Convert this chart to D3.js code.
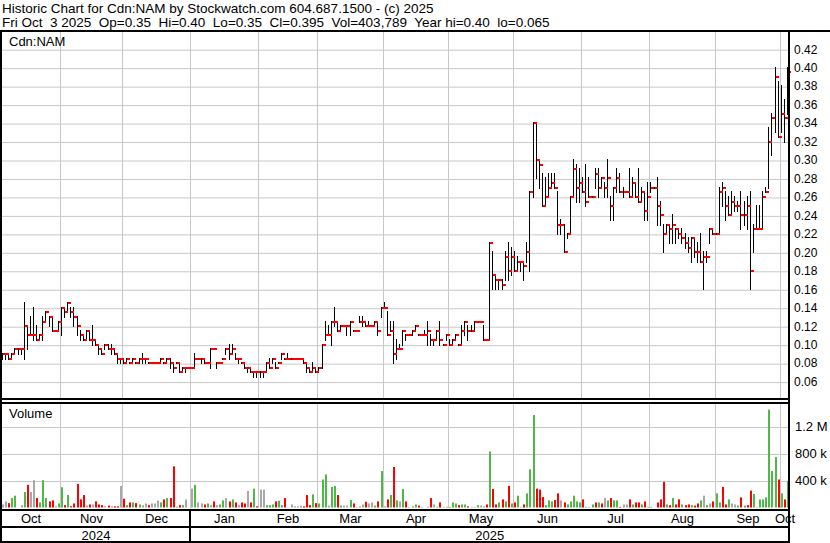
<!DOCTYPE html>
<html>
<head>
<meta charset="utf-8">
<script src="https://cdn.jsdelivr.net/npm/d3@7"></script>
<style>
  body { margin: 0; background: #fff; }
  svg text { font-family: "Liberation Sans", Arial, sans-serif; fill: #000; }
</style>
</head>
<body>
<div id="chart"></div>
<script>
// daily bars, Oct 3 2024 .. Oct 3 2025 (price in $)
const highs = [
  .09,.09,.09,.09,.095,.095,.095,.145,.12,.13,
  .14,.12,.11,.13,.135,.13,.13,.115,.125,.14,
  .14,.145,.14,.14,.13,.115,.11,.115,.115,.12,
  .105,.10,.095,.10,.10,.10,.095,.09,.085,.085,
  .085,.08,.085,.08,.085,.09,.085,.08,.08,.08,
  .08,.085,.08,.085,.085,.08,.08,.08,.075,.075,
  .075,.075,.09,.085,.085,.085,.08,.095,.095,.08,
  .08,.085,.095,.10,.10,.09,.085,.08,.08,.075,
  .075,.07,.07,.07,.07,.08,.085,.085,.08,.08,
  .09,.085,.09,.085,.085,.085,.085,.085,.08,.075,
  .08,.075,.075,.10,.125,.12,.125,.14,.125,.12,
  .12,.12,.125,.115,.115,.13,.13,.125,.125,.12,
  .125,.125,.14,.145,.135,.125,.125,.105,.10,.115,
  .11,.11,.115,.12,.11,.11,.115,.125,.11,.105,
  .115,.125,.10,.11,.105,.105,.11,.10,.12,.125,
  .12,.12,.125,.125,.125,.12,.105,.21,.20,.175,
  .17,.17,.20,.21,.205,.20,.195,.19,.19,.21,
  .265,.34,.34,.30,.285,.28,.285,.285,.285,.265,
  .235,.23,.22,.26,.30,.295,.29,.28,.295,.28,
  .26,.29,.29,.28,.275,.30,.26,.27,.29,.285,
  .27,.265,.29,.28,.275,.29,.27,.265,.275,.275,
  .27,.28,.255,.23,.23,.23,.24,.225,.225,.225,
  .22,.215,.215,.215,.21,.22,.20,.20,.225,.225,
  .22,.27,.275,.265,.26,.265,.26,.255,.265,.255,
  .26,.265,.23,.25,.25,.265,.27,.335,.35,.40,
  .385,.38,.365,.40
];
const lows = [
  .085,.085,.085,.085,.09,.09,.09,.085,.095,.11,
  .105,.105,.105,.105,.125,.12,.115,.115,.115,.11,
  .13,.135,.13,.12,.11,.105,.105,.105,.105,.10,
  .10,.09,.09,.095,.095,.09,.09,.08,.08,.08,
  .08,.08,.08,.08,.08,.08,.08,.08,.08,.08,
  .08,.08,.08,.08,.075,.07,.08,.07,.07,.07,
  .075,.075,.075,.085,.08,.08,.08,.075,.095,.075,
  .08,.085,.09,.085,.09,.085,.08,.08,.075,.07,
  .07,.065,.065,.065,.065,.07,.075,.08,.075,.08,
  .085,.085,.085,.085,.085,.085,.085,.08,.07,.07,
  .07,.07,.07,.075,.105,.11,.10,.12,.115,.115,
  .12,.11,.11,.115,.115,.125,.12,.12,.12,.12,
  .12,.11,.13,.14,.11,.115,.08,.085,.095,.10,
  .105,.11,.11,.115,.11,.11,.11,.10,.10,.10,
  .105,.10,.10,.105,.10,.10,.105,.10,.10,.11,
  .105,.115,.115,.125,.125,.105,.105,.105,.16,.16,
  .16,.16,.17,.17,.175,.18,.18,.18,.17,.19,
  .18,.26,.28,.27,.25,.25,.26,.27,.27,.22,
  .22,.20,.215,.22,.26,.255,.255,.265,.25,.26,
  .26,.27,.26,.27,.26,.26,.235,.235,.265,.265,
  .26,.265,.26,.26,.26,.255,.255,.235,.235,.265,
  .27,.23,.23,.20,.22,.21,.21,.21,.215,.21,
  .205,.20,.19,.195,.19,.19,.16,.19,.21,.22,
  .22,.22,.25,.235,.24,.24,.245,.245,.225,.23,
  .225,.16,.20,.225,.225,.225,.265,.27,.305,.33,
  .325,.33,.32,.35
];
const closes = [
  .09,.09,.085,.09,.095,.095,.095,.12,.11,.11,
  .11,.105,.11,.125,.135,.13,.115,.115,.125,.14,
  .135,.145,.135,.13,.12,.11,.105,.115,.105,.105,
  .10,.095,.09,.10,.095,.095,.09,.085,.085,.08,
  .085,.08,.085,.08,.085,.085,.085,.08,.08,.08,
  .08,.085,.08,.085,.08,.075,.08,.07,.075,.075,
  .075,.075,.085,.085,.085,.08,.08,.095,.095,.08,
  .08,.085,.095,.09,.095,.085,.085,.08,.075,.075,
  .07,.07,.07,.07,.07,.08,.075,.085,.075,.08,
  .09,.085,.085,.085,.085,.085,.085,.08,.075,.07,
  .075,.07,.075,.10,.11,.11,.125,.125,.115,.12,
  .12,.12,.125,.115,.115,.125,.125,.12,.12,.12,
  .125,.115,.14,.14,.11,.115,.09,.095,.095,.115,
  .11,.11,.115,.12,.11,.11,.11,.115,.105,.105,
  .115,.105,.10,.11,.10,.105,.11,.10,.115,.125,
  .115,.115,.125,.125,.125,.105,.105,.21,.175,.17,
  .17,.165,.195,.18,.195,.18,.19,.19,.185,.20,
  .265,.34,.30,.295,.25,.26,.27,.275,.27,.23,
  .23,.20,.22,.26,.29,.27,.275,.265,.255,.26,
  .26,.285,.27,.28,.27,.28,.25,.27,.28,.265,
  .265,.265,.26,.275,.26,.255,.265,.245,.26,.27,
  .27,.25,.24,.22,.23,.225,.23,.225,.22,.215,
  .21,.205,.215,.20,.20,.19,.195,.195,.225,.22,
  .22,.265,.27,.25,.24,.255,.25,.25,.24,.24,
  .25,.18,.225,.225,.225,.26,.265,.32,.345,.39,
  .325,.35,.345,.395
];
// daily volume, thousands of shares
const volumes = [
  45,90,65,140,175,0,35,230,335,230,
  405,140,75,405,140,90,105,18,60,300,
  35,185,18,60,350,120,185,28,45,45,
  90,45,35,18,28,18,18,18,320,130,
  35,75,75,65,45,35,60,35,60,60,
  105,75,120,140,140,610,12,35,35,120,
  0,280,335,75,60,45,60,35,90,35,
  45,105,140,90,120,75,35,75,60,245,
  75,280,18,265,265,35,35,45,90,100,
  35,140,5,45,18,18,28,18,185,35,
  195,65,60,415,490,28,305,320,185,28,
  28,28,110,60,10,18,45,85,60,75,
  28,90,540,18,120,185,600,105,90,275,
  90,10,18,45,28,10,0,10,140,45,
  10,75,10,10,10,75,60,35,45,45,
  18,10,10,35,28,18,45,830,275,45,
  75,120,90,320,60,75,175,10,45,210,
  565,1370,280,265,155,35,105,90,110,210,
  105,75,45,90,175,90,75,120,10,10,
  45,75,75,60,140,105,140,105,105,10,
  45,45,120,45,75,75,45,90,10,10,
  0,75,120,380,45,35,140,45,120,45,
  35,45,35,28,60,105,175,35,60,90,
  210,75,305,45,120,60,45,28,150,28,
  35,250,200,10,120,120,150,1450,540,750,
  415,210,120,395
];
// g = close up, r = close down, n = unchanged
const volDir = (
  "nnrggnngrn" + "nrgggrrngg" + "rgrrrrrnrn" + "rrrnrnrrnr" + "grgrgnnrnn" +
  "ngrgrrgrgn" + "nngnnrgnrn" + "ggnrgrnrrn" + "rgrnngggrg" + "grnnnnnrrr" +
  "grgggnggrg" + "nngrnnnrnn" + "grgnrgrgng" + "rnggrnngrn" + "grnggggrgg" +
  "rnngnnrgrr" + "grgrgrgnrg" + "ggrrrgggrr" + "nrgggggrgn" + "grgrngrggr" +
  "nnrgrrgrgg" + "nrrrgrgrrg" + "rrgrrgngnr" + "ggrrgnngrg" + "rrgngggggg" +
  "rgrg"
).split("");

const monthLabels = ["Oct","Nov","Dec","Jan","Feb","Mar","Apr","May","Jun","Jul","Aug","Sep","Oct"];
const monthStarts = [0,19,39,61,83,102,123,144,165,187,209,230,251];
const yearLabels = ["2024","2025"];
const yearStarts = [0,61];

const priceTicks = [0.06,0.08,0.10,0.12,0.14,0.16,0.18,0.20,0.22,0.24,0.26,0.28,0.30,0.32,0.34,0.36,0.38,0.40,0.42];
const volTicks = [400000, 800000, 1200000];
const volTickLabels = ["400 k", "800 k", "1.2 M"];

const titleLine1 = "Historic Chart for Cdn:NAM by Stockwatch.com 604.687.1500 - (c) 2025";
const titleLine2 = "Fri Oct  3 2025  Op=0.35  Hi=0.40  Lo=0.35  Cl=0.395  Vol=403,789  Year hi=0.40  lo=0.065";

const WIDTH = 830, HEIGHT = 543;
const plotLeft = 1, plotRight = 789;
const priceTop = 32, priceBottom = 398;
const volTop = 404, volBottom = 508;

const N = closes.length;
const GRID = "#c8c8c8";
const UP = "#4fb848", DOWN = "#ff0000", FLAT = "#a8a8a8";

const svg = d3.select("#chart").append("svg")
  .attr("width", WIDTH).attr("height", HEIGHT);
svg.append("rect").attr("width", WIDTH).attr("height", HEIGHT).attr("fill", "#fff");

const xScale = d3.scaleBand().domain(d3.range(N)).range([plotLeft, plotRight]);
const step = xScale.step();
const xMid = (i) => Math.floor(xScale(i) + step / 2) + 0.5;
const xEdge = (i) => Math.round(xScale(i)) + 0.5;

const yPrice = d3.scaleLinear().domain([0.06, 0.42]).range([381.6, 49.2]);
const yVol = d3.scaleLinear().domain([0, 1200000]).range([507.5, 426.5]);

// header
svg.append("text").attr("x", 2).attr("y", 13).attr("font-size", "13.5px")
  .style("white-space", "pre").text(titleLine1);
svg.append("text").attr("x", 2).attr("y", 27).attr("font-size", "13.5px")
  .style("white-space", "pre").text(titleLine2);

// grids
const grid = svg.append("g");
grid.append("g")
  .attr("transform", `translate(${plotRight},0)`)
  .call(d3.axisLeft(yPrice).tickValues(priceTicks).tickSize(plotRight - plotLeft).tickFormat(""))
  .call(g => g.select(".domain").remove())
  .call(g => g.selectAll("line").attr("stroke", GRID).attr("transform", "translate(0,0.5)"));
grid.append("g")
  .attr("transform", `translate(${plotRight},0)`)
  .call(d3.axisLeft(yVol).tickValues(volTicks).tickSize(plotRight - plotLeft).tickFormat(""))
  .call(g => g.select(".domain").remove())
  .call(g => g.selectAll("line").attr("stroke", GRID).attr("transform", "translate(0,0.5)"));

grid.selectAll(".vp").data(monthStarts.slice(1)).join("line")
  .attr("x1", d => xEdge(d)).attr("x2", d => xEdge(d))
  .attr("y1", priceTop).attr("y2", priceBottom).attr("stroke", GRID);
grid.selectAll(".vv").data(monthStarts.slice(1)).join("line")
  .attr("class", "vv")
  .attr("x1", d => xEdge(d)).attr("x2", d => xEdge(d))
  .attr("y1", volTop).attr("y2", volBottom).attr("stroke", GRID);

// price bars
const idx = d3.range(N);
const bars = svg.append("g");
bars.selectAll("line").data(idx).join("line")
  .attr("x1", xMid).attr("x2", xMid)
  .attr("y1", i => Math.round(yPrice(highs[i])) - 1)
  .attr("y2", i => Math.round(yPrice(lows[i])) + 1)
  .attr("stroke", "#000").attr("stroke-width", 1);
bars.selectAll("rect").data(idx).join("rect")
  .attr("x", i => xMid(i) + 0.5)
  .attr("y", i => Math.round(yPrice(closes[i])) - 1)
  .attr("width", 3).attr("height", 2)
  .attr("fill", DOWN);

// volume bars
const dirColor = { g: UP, r: DOWN, n: FLAT };
svg.append("g").selectAll("rect").data(idx.filter(i => volumes[i] > 0)).join("rect")
  .attr("x", i => xMid(i) - 0.5)
  .attr("width", 2)
  .attr("y", i => yVol(volumes[i] * 1000))
  .attr("height", i => yVol(0) - yVol(volumes[i] * 1000))
  .attr("fill", i => dirColor[volDir[i]]);

// right axis labels
svg.append("g")
  .attr("transform", `translate(${plotRight + 1},0)`)
  .call(d3.axisRight(yPrice).tickValues(priceTicks).tickSize(0).tickPadding(4).tickFormat(d3.format(".2f")))
  .call(g => g.select(".domain").remove())
  .call(g => g.selectAll("text").attr("font-size", "12px").attr("font-family", null).attr("fill", "#000"));
svg.append("g")
  .attr("transform", `translate(${plotRight + 1},0)`)
  .call(d3.axisRight(yVol).tickValues(volTicks).tickSize(0).tickPadding(5)
    .tickFormat((d, i) => volTickLabels[i]))
  .call(g => g.select(".domain").remove())
  .call(g => g.selectAll("text").attr("font-size", "13px").attr("font-family", null).attr("fill", "#000"));

// panel labels
svg.append("text").attr("x", 9).attr("y", 46).attr("font-size", "13px").text("Cdn:NAM");
svg.append("text").attr("x", 9).attr("y", 418).attr("font-size", "13px").text("Volume");

// month and year labels
const monthEnds = monthStarts.slice(1).map(xEdge).concat([plotRight]);
svg.append("g").selectAll("text").data(monthLabels).join("text")
  .attr("x", (d, i) => (i === monthLabels.length - 1 ? 785 : (xEdge(monthStarts[i]) + monthEnds[i]) / 2))
  .attr("y", 523)
  .attr("text-anchor", "middle").attr("font-size", "13px")
  .text(d => d);
const yearEnds = [xEdge(yearStarts[1]), plotRight];
svg.append("g").selectAll("text").data(yearLabels).join("text")
  .attr("x", (d, i) => (xEdge(yearStarts[i]) + yearEnds[i]) / 2)
  .attr("y", 540)
  .attr("text-anchor", "middle").attr("font-size", "13px")
  .text(d => d);

// frame
const frame = svg.append("g").attr("fill", "#000");
frame.append("rect").attr("x", 0).attr("y", 30).attr("width", WIDTH).attr("height", 2);
frame.append("rect").attr("x", 0).attr("y", 30).attr("width", 2).attr("height", HEIGHT - 30);
frame.append("rect").attr("x", plotRight - 1).attr("y", 30).attr("width", 2).attr("height", HEIGHT - 30);
frame.append("rect").attr("x", 0).attr("y", priceBottom).attr("width", plotRight + 1).attr("height", 2);
frame.append("rect").attr("x", 0).attr("y", volTop - 2).attr("width", plotRight + 1).attr("height", 2);
frame.append("rect").attr("x", 0).attr("y", volBottom + 1).attr("width", plotRight + 1).attr("height", 2);
frame.append("rect").attr("x", 0).attr("y", 526).attr("width", plotRight + 1).attr("height", 2);
frame.append("rect").attr("x", 0).attr("y", HEIGHT - 2).attr("width", plotRight + 1).attr("height", 2);
frame.append("rect").attr("x", Math.round(xScale(yearStarts[1])) - 1).attr("y", volBottom + 1)
  .attr("width", 2).attr("height", HEIGHT - volBottom - 1);
</script>
</body>
</html>
